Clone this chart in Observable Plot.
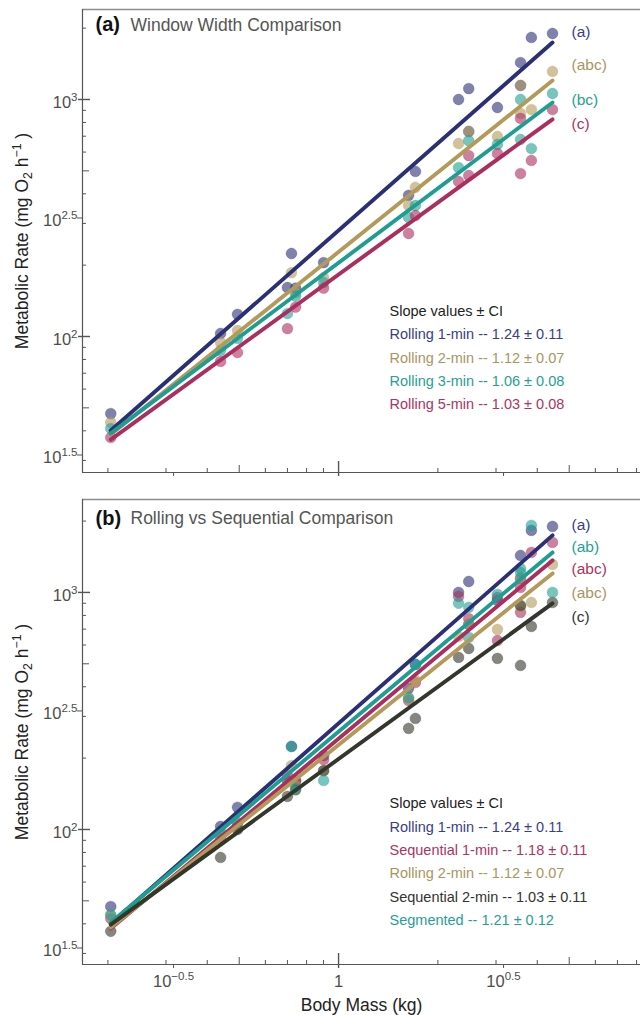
<!DOCTYPE html>
<html><head><meta charset="utf-8">
<script src="https://cdn.jsdelivr.net/npm/d3@7"></script>
<script src="https://cdn.jsdelivr.net/npm/@observablehq/plot@0.6"></script>
<style>
body{margin:0;background:#fff;}
#chart svg{display:block;}
</style></head><body><div id="chart"></div>
<script>
// ---------- data (body mass in kg, metabolic rate in mg O2 / h) ----------
const massR1 = [0.204, 0.439, 0.494, 0.700, 0.720, 0.741, 0.901, 1.63, 1.71, 2.31, 2.48, 2.48, 3.03, 3.56, 3.56, 3.84, 4.45];
const rateR1 = [47.3, 103, 124, 161, 224, 160, 205, 394, 497, 1000, 1112, 733, 925, 1432, 1146, 1827, 1899];

const massR2 = [0.204, 0.439, 0.494, 0.720, 0.741, 0.901, 1.63, 1.71, 2.31, 2.48, 3.03, 3.56, 3.56, 3.84, 4.45];
const rateR2 = [43.4, 94.4, 106, 186, 153, 177, 357, 426, 652, 733, 698, 1146, 873, 907, 1313];

const massR3 = [0.204, 0.439, 0.494, 0.700, 0.741, 0.901, 1.63, 1.71, 2.31, 2.48, 3.03, 3.56, 3.56, 3.84, 4.45];
const rateR3 = [40.9, 87.4, 98.2, 125, 148, 169, 318, 357, 516, 671, 646, 1000, 678, 621, 1060];

const massR5 = [0.204, 0.439, 0.494, 0.700, 0.741, 0.901, 1.63, 1.71, 2.31, 2.48, 2.48, 3.03, 3.56, 3.56, 3.84, 4.45];
const rateR5 = [37.5, 78.5, 85.6, 108, 133, 160, 272, 324, 451, 580, 478, 592, 832, 487, 553, 907];

const massS1 = [0.204, 0.439, 0.494, 0.700, 0.741, 0.901, 1.63, 1.71, 2.31, 2.48, 3.03, 3.03, 3.56, 3.56, 3.84, 4.45];
const rateS1 = [42.1, 91.6, 103, 169, 161, 197, 350, 417, 962, 776, 953, 627, 1050, 824, 1475, 1626];

const massS2 = [0.204, 0.439, 0.494, 0.700, 0.741, 0.901, 1.63, 1.71, 2.31, 2.48, 3.03, 3.56, 3.56, 3.84, 4.45];
const rateS2 = [37.2, 76.2, 100, 138, 147, 177, 267, 294, 532, 580, 527, 881, 492, 719, 907];

const massSG = [0.204, 0.439, 0.494, 0.720, 0.741, 0.901, 1.63, 1.71, 2.31, 2.48, 2.48, 3.03, 3.56, 3.56, 3.84, 4.45];
const rateSG = [43.7, 97, 107, 224, 149, 161, 360, 497, 900, 865, 646, 981, 1262, 1214, 1919, 1000];

// fitted lines (end points at smallest and largest mass)
const lineMass = [0.204, 4.45];
const lineR1 = [40.1, 1740];
const lineR2 = [38.6, 1203];
const lineR3 = [39.0, 971];
const lineR5 = [36.7, 824];
const lineS1 = [38.2, 1365];
const lineS2 = [39.7, 899];
const lineSG = [40.5, 1475];

// text
const titlesA = ["(a)", "Window Width Comparison"];
const titlesB = ["(b)", "Rolling vs Sequential Comparison"];
const lettersA = ["(a)", "(abc)", "(bc)", "(c)"];
const lettersB = ["(a)", "(ab)", "(abc)", "(abc)", "(c)"];
const legendTitle = "Slope values ± CI";
const legendA = ["Rolling 1-min -- 1.24 ± 0.11", "Rolling 2-min -- 1.12 ± 0.07", "Rolling 3-min -- 1.06 ± 0.08", "Rolling 5-min -- 1.03 ± 0.08"];
const legendB = ["Rolling 1-min -- 1.24 ± 0.11", "Sequential 1-min -- 1.18 ± 0.11", "Rolling 2-min -- 1.12 ± 0.07", "Sequential 2-min -- 1.03 ± 0.11", "Segmented -- 1.21 ± 0.12"];
const xLabel = "Body Mass (kg)";
const yLabel = "Metabolic Rate (mg O_{2} h^{−1} )";

// ticks
const xMinor = [0.2, 0.3, 0.4, 0.6, 0.7, 0.8, 0.9, 2, 3, 4, 6, 7, 8];
const xMid = [0.5, 5];
const xMajor = [1];
const xHalf = [10 ** -0.5, 10 ** 0.5];
const xTickValues = [10 ** -0.5, 1, 10 ** 0.5];
const xTickLabels = ["10^{−0.5}", "1", "10^{0.5}"];
const yMinor = [30, 40, 60, 70, 80, 90, 200, 300, 400, 600, 700, 800, 900, 2000];
const yMid = [50, 500];
const yMajor = [100, 1000];
const yHalf = [10 ** 1.5, 10 ** 2.5];
const yTickValues = [10 ** 1.5, 100, 10 ** 2.5, 1000];
const yTickLabels = ["10^{1.5}", "10^{2}", "10^{2.5}", "10^{3}"];

// ---------- styles ----------
const C = {
  navy: "#2b2f74", tan: "#b39a5a", teal: "#1e9e92", mag: "#aa2e5e", dark: "#33362b"
};
const TXT = {
  navy: "#3a3e84", tan: "#a9965e", teal: "#26a096", mag: "#ab3463", dark: "#333333"
};
const FONT = "'Liberation Sans', Arial, Helvetica, sans-serif";
const W = 640, ML = 82, MR = 0, MT = 9;
const X_DOMAIN = [10 ** -0.776, 10 ** 0.915];

function ticks(plotW, plotH) {
  const s = {stroke: "#555", strokeWidth: 1};
  return [
    Plot.ruleX(xMinor, {x: d => d, insetTop: plotH - 4, ...s}),
    Plot.ruleX(xMid, {x: d => d, insetTop: plotH - 7, ...s}),
    Plot.ruleX(xMajor, {x: d => d, insetTop: plotH - 11, insetBottom: -4, ...s, strokeWidth: 1.4}),
    Plot.ruleX(xHalf, {x: d => d, insetTop: plotH, insetBottom: -4, ...s}),
    Plot.ruleY(yMinor, {y: d => d, insetRight: plotW - 4, ...s}),
    Plot.ruleY(yMid, {y: d => d, insetRight: plotW - 7, ...s}),
    Plot.ruleY(yMajor, {y: d => d, insetLeft: -4, insetRight: plotW - 8, ...s, strokeWidth: 1.4}),
    Plot.ruleY(yHalf, {y: d => d, insetLeft: -5, insetRight: plotW, ...s})
  ];
}

function dots(mass, rate, color) {
  return Plot.dot(mass, {x: mass, y: rate, r: 5.4, fill: color, fillOpacity: 0.6, stroke: color, strokeOpacity: 0.35, strokeWidth: 0.8});
}
function fit(rate, color) {
  return Plot.line(lineMass, {x: lineMass, y: rate, stroke: color, strokeWidth: 3.9});
}

function panel({height, marginBottom, yDomain, series, lines, titles, titleDy, letters, letterColors, letterDy, legend, legendColors, legendDy, showXLabels}) {
  const plotW = W - ML - MR, plotH = height - MT - marginBottom;
  const marks = [
    Plot.ruleY([yDomain[1]], {stroke: "#8c8c8c", strokeWidth: 1.3}),
    Plot.ruleX([X_DOMAIN[0]], {stroke: "#555", strokeWidth: 1.2}),
    Plot.ruleY([yDomain[0]], {stroke: "#555", strokeWidth: 1.2}),
    ...ticks(plotW, plotH),
    ...series.map(([m, r, c]) => dots(m, r, c)),
    ...lines.map(([r, c]) => fit(r, c)),
    // y tick labels
    Plot.text(yTickLabels, {y: yTickValues, text: d => d, frameAnchor: "left", textAnchor: "end", lineAnchor: "middle", dx: -5, dy: 3, fontSize: 16.5, fill: "#4d4d4d"}),
    // titles
    Plot.text([titles[0]], {frameAnchor: "top-left", textAnchor: "start", lineAnchor: "middle", dx: 13, dy: titleDy, fontSize: 20, fontWeight: "bold", fill: "#111"}),
    Plot.text([titles[1]], {frameAnchor: "top-left", textAnchor: "start", lineAnchor: "middle", dx: 48, dy: titleDy, fontSize: 17.5, fill: "#555"}),
    // y axis label
    Plot.text([yLabel], {frameAnchor: "left", textAnchor: "middle", lineAnchor: "middle", rotate: -90, dx: -60, fontSize: 17.5, fill: "#222"}),
    // group letters
    ...letters.map((t, i) => Plot.text([t], {frameAnchor: "top-left", textAnchor: "start", lineAnchor: "middle", dx: 489, dy: letterDy[i], fontSize: 15.5, fill: letterColors[i]})),
    // legend
    Plot.text([legendTitle], {frameAnchor: "top-left", textAnchor: "start", lineAnchor: "middle", dx: 307, dy: legendDy[0], fontSize: 14.5, fill: "#222"}),
    ...legend.map((t, i) => Plot.text([t], {frameAnchor: "top-left", textAnchor: "start", lineAnchor: "middle", dx: 307, dy: legendDy[i + 1], fontSize: 14.5, fill: legendColors[i]}))
  ];
  if (showXLabels) {
    marks.push(
      Plot.text(xTickLabels, {x: xTickValues, text: d => d, frameAnchor: "bottom", textAnchor: "middle", lineAnchor: "middle", dy: 17, fontSize: 16.5, fill: "#4d4d4d"}),
      Plot.text([xLabel], {frameAnchor: "bottom", textAnchor: "middle", lineAnchor: "middle", dy: 41, fontSize: 17.5, fill: "#222"})
    );
  }
  const svg = Plot.plot({
    width: W, height, marginLeft: ML, marginRight: MR, marginTop: MT, marginBottom,
    style: {fontFamily: FONT, background: "#fff", overflow: "visible"},
    x: {type: "log", domain: X_DOMAIN, axis: null},
    y: {type: "log", domain: yDomain, axis: null},
    marks
  });
  rich(svg);
  return svg;
}

// convert ^{..} and _{..} into superscript / subscript tspans
function rich(svg) {
  svg.querySelectorAll("text").forEach(t => {
    const s = t.textContent;
    if (!/[\^_]\{/.test(s)) return;
    while (t.firstChild) t.removeChild(t.firstChild);
    const re = /([\^_])\{([^}]*)\}/g;
    let last = 0, m, pending = null;
    const NS = "http://www.w3.org/2000/svg";
    const add = (str, kind) => {
      if (!str) return;
      const ts = document.createElementNS(NS, "tspan");
      ts.textContent = str;
      if (kind === "^") { ts.style.fontSize = "70%"; ts.setAttribute("dy", "-0.62em"); pending = "0.434em"; }
      else if (kind === "_") { ts.style.fontSize = "70%"; ts.setAttribute("dy", "0.35em"); pending = "-0.245em"; }
      else if (pending) { ts.setAttribute("dy", pending); pending = null; }
      t.appendChild(ts);
    };
    while ((m = re.exec(s))) {
      add(s.slice(last, m.index));
      add(m[2], m[1]);
      last = re.lastIndex;
    }
    add(s.slice(last));
  });
}

const chart = document.getElementById("chart");
chart.appendChild(panel({
  height: 490, marginBottom: 18,
  yDomain: [10 ** 1.4262, 10 ** 3.3797],
  series: [[massR1, rateR1, C.navy], [massR2, rateR2, C.tan], [massR3, rateR3, C.teal], [massR5, rateR5, C.mag]],
  lines: [[lineR1, C.navy], [lineR2, C.tan], [lineR3, C.teal], [lineR5, C.mag]],
  titles: titlesA, titleDy: 15.5,
  letters: lettersA, letterColors: [TXT.navy, TXT.tan, TXT.teal, TXT.mag], letterDy: [23, 56, 91, 115],
  legend: legendA, legendColors: [TXT.navy, TXT.tan, TXT.teal, TXT.mag], legendDy: [302, 325, 349, 372, 395],
  showXLabels: false
}));
chart.appendChild(panel({
  height: 525, marginBottom: 51,
  yDomain: [10 ** 1.4304, 10 ** 3.392],
  series: [[massR1, rateR1, C.navy], [massS1, rateS1, C.mag], [massR2, rateR2, C.tan], [massS2, rateS2, C.dark], [massSG, rateSG, C.teal]],
  lines: [[lineR1, C.navy], [lineSG, C.teal], [lineS1, C.mag], [lineR2, C.tan], [lineS2, C.dark]],
  titles: titlesB, titleDy: 19,
  letters: lettersB, letterColors: [TXT.navy, TXT.teal, TXT.mag, TXT.tan, TXT.dark], letterDy: [26, 48, 70, 94, 118],
  legend: legendB, legendColors: [TXT.navy, TXT.mag, TXT.tan, TXT.dark, TXT.teal], legendDy: [304, 328, 351, 374, 398, 421],
  showXLabels: true
}));
</script>
</body></html>
